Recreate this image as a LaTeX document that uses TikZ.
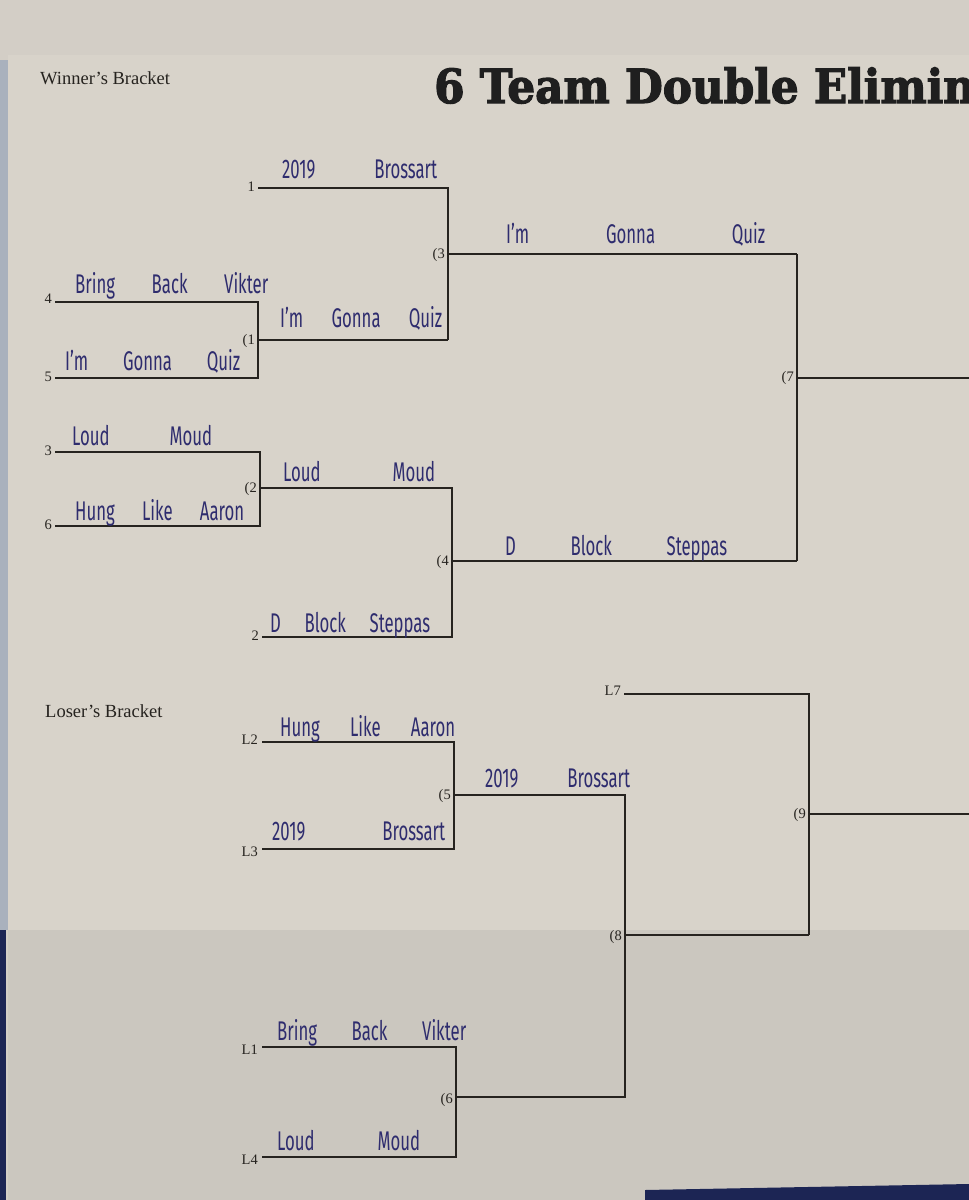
\documentclass[tikz,border=0pt]{standalone}
\usepackage{fontspec}
\setmainfont{Liberation Serif}
\newfontfamily\titlefont{DejaVu Serif}[BoldFeatures={FakeBold=2.5},FakeStretch=0.93]
\newfontfamily\hand{Fira Sans}[FakeStretch=0.62]
\definecolor{paper}{HTML}{D8D3CA}
\definecolor{paperlow}{HTML}{CBC7BF}
\definecolor{backsheet}{HTML}{D3CEC6}
\definecolor{edge}{HTML}{A9B1BD}
\definecolor{navy}{HTML}{1C2554}
\definecolor{ink}{HTML}{2E2C6E}
\definecolor{linec}{HTML}{26231F}
\newcommand\hw[2]{\makebox[#1pt][s]{#2}}
\tikzset{
  bline/.style={draw=linec,line width=1.7pt,line join=miter},
  seed/.style={font=\fontsize{14.5}{14.5}\selectfont,text=linec,anchor=base east,inner sep=0pt},
  game/.style={font=\fontsize{14.5}{14.5}\selectfont,text=linec,anchor=east,inner sep=0pt},
  hwname/.style={font=\hand\fontsize{27}{27}\selectfont,text=ink,anchor=base west,inner sep=0pt},
  head/.style={font=\fontsize{18.5}{18.5}\selectfont,text=linec,anchor=base west,inner sep=0pt}
}
\begin{document}
\begin{tikzpicture}[x=1pt,y=-1pt]
\useasboundingbox (0,0) rectangle (969,1200);
\clip (0,0) rectangle (969,1200);
% background
\fill[backsheet] (0,0) rectangle (969,1200);
\fill[paper] (8,55) -- (969,55) -- (969,1200) -- (8,1200) -- cycle;
\fill[paperlow] (8,930) rectangle (969,1200);
\fill[edge] (0,60) rectangle (8,930);
\fill[navy] (0,930) rectangle (6,1200);
\fill[navy] (645,1190) -- (969,1184) -- (969,1200) -- (645,1200) -- cycle;

% headings
\node[head] (wbh) at (40,84) {Winner’s Bracket};
\node[head] (lbh) at (45,717) {Loser’s Bracket};
\node[font=\titlefont\bfseries\fontsize{47}{47}\selectfont,text=black!88,anchor=base west,inner sep=0pt] (title) at (434,103) {6 Team Double Elimin};

% ---------- Winner's bracket coordinates ----------
\coordinate (a1s) at (55,302);  \coordinate (a1e) at (258,302);
\coordinate (a2s) at (55,378);  \coordinate (a2e) at (258,378);
\coordinate (m1s) at (258,340); \coordinate (m1e) at (448,340);
\coordinate (s1s) at (258,188); \coordinate (s1e) at (448,188);
\coordinate (m3s) at (448,254); \coordinate (m3e) at (797,254);
\coordinate (a3s) at (55,452);  \coordinate (a3e) at (260,452);
\coordinate (a6s) at (55,526);  \coordinate (a6e) at (260,526);
\coordinate (m2s) at (260,488); \coordinate (m2e) at (452,488);
\coordinate (s2s) at (262,637); \coordinate (s2e) at (452,637);
\coordinate (m4s) at (452,561); \coordinate (m4e) at (797,561);
\coordinate (m7s) at (797,378); \coordinate (m7e) at (975,378);

% ---------- Loser's bracket coordinates ----------
\coordinate (l7s) at (624,694);  \coordinate (l7e) at (809,694);
\coordinate (l2s) at (262,742);  \coordinate (l2e) at (454,742);
\coordinate (l3s) at (262,849);  \coordinate (l3e) at (454,849);
\coordinate (m5s) at (454,795);  \coordinate (m5e) at (625,795);
\coordinate (m8s) at (625,935);  \coordinate (m8e) at (809,935);
\coordinate (m9s) at (809,814);  \coordinate (m9e) at (975,814);
\coordinate (l1s) at (262,1047); \coordinate (l1e) at (456,1047);
\coordinate (l4s) at (262,1157); \coordinate (l4e) at (456,1157);
\coordinate (m6s) at (456,1097); \coordinate (m6e) at (625,1097);

% ---------- bracket lines ----------
\draw[bline] (a1s) -- (a1e) -- (a2e) -- (a2s);
\draw[bline] (m1s) -- (m1e);
\draw[bline] (s1s) -- (s1e) -- (m1e);
\draw[bline] (m3s) -- (m3e);
\draw[bline] (a3s) -- (a3e) -- (a6e) -- (a6s);
\draw[bline] (m2s) -- (m2e) -- (s2e) -- (s2s);
\draw[bline] (m4s) -- (m4e);
\draw[bline] (m3e) -- (m4e);
\draw[bline] (m7s) -- (m7e);

\draw[bline] (l2s) -- (l2e) -- (l3e) -- (l3s);
\draw[bline] (m5s) -- (m5e) -- (m6e) -- (m6s);
\draw[bline] (l1s) -- (l1e) -- (l4e) -- (l4s);
\draw[bline] (m8s) -- (m8e);
\draw[bline] (l7s) -- (l7e) -- (m8e);
\draw[bline] (m9s) -- (m9e);

% ---------- seed labels ----------
\node[seed] (t1) at ([xshift=-3pt,yshift=-3pt]s1s) {1};
\node[seed] (t4) at ([xshift=-3pt,yshift=-1pt]a1s) {4};
\node[seed] (t5) at ([xshift=-3pt,yshift=-3pt]a2s) {5};
\node[seed] (t3) at ([xshift=-3pt,yshift=-3pt]a3s) {3};
\node[seed] (t6) at ([xshift=-3pt,yshift=-3pt]a6s) {6};
\node[seed] (t2) at ([xshift=-3pt,yshift=-3pt]s2s) {2};
\node[seed] (tl7) at ([xshift=-3pt,yshift=-1pt]l7s) {L7};
\node[seed] (tl2) at ([xshift=-4pt,yshift=-2pt]l2s) {L2};
\node[seed] (tl3) at ([xshift=-4pt,yshift=-7pt]l3s) {L3};
\node[seed] (tl1) at ([xshift=-4pt,yshift=-7pt]l1s) {L1};
\node[seed] (tl4) at ([xshift=-4pt,yshift=-7pt]l4s) {L4};

% ---------- game labels ----------
\node[game] (g1) at ([xshift=-3pt,yshift=-1pt]m1s) {(1};
\node[game] (g2) at ([xshift=-3pt,yshift=-1pt]m2s) {(2};
\node[game] (g3) at ([xshift=-3pt,yshift=-1pt]m3s) {(3};
\node[game] (g4) at ([xshift=-3pt,yshift=-1pt]m4s) {(4};
\node[game] (g7) at ([xshift=-3pt,yshift=0pt]m7s) {(7};
\node[game] (g5) at ([xshift=-3pt,yshift=-1pt]m5s) {(5};
\node[game] (g8) at ([xshift=-3pt,yshift=-2pt]m8s) {(8};
\node[game] (g9) at ([xshift=-3pt,yshift=-1pt]m9s) {(9};
\node[game] (g6) at ([xshift=-3pt,yshift=-3pt]m6s) {(6};

% ---------- handwritten team names ----------
\node[hwname] (h1) at (282,178) {\hw{155}{2019 Brossart}};
\node[hwname] (h2) at (506,243) {\hw{259}{I’m Gonna Quiz}};
\node[hwname] (h3) at (75,293) {\hw{193}{Bring Back Vikter}};
\node[hwname] (h4) at (280,327) {\hw{162}{I’m Gonna Quiz}};
\node[hwname] (h5) at (65,370) {\hw{175}{I’m Gonna Quiz}};
\node[hwname] (h6) at (72,445) {\hw{140}{Loud Moud}};
\node[hwname] (h7) at (283,481) {\hw{152}{Loud Moud}};
\node[hwname] (h8) at (75,520) {\hw{169}{Hung Like Aaron}};
\node[hwname] (h9) at (505,555) {\hw{222}{D Block Steppas}};
\node[hwname] (h10) at (270,632) {\hw{160}{D Block Steppas}};
\node[hwname] (h11) at (280,736) {\hw{175}{Hung Like Aaron}};
\node[hwname] (h12) at (485,787) {\hw{145}{2019 Brossart}};
\node[hwname] (h13) at (272,840) {\hw{173}{2019 Brossart}};
\node[hwname] (h14) at (277,1040) {\hw{189}{Bring Back Vikter}};
\node[hwname] (h15) at (277,1150) {\hw{143}{Loud Moud}};
\end{tikzpicture}
\end{document}
